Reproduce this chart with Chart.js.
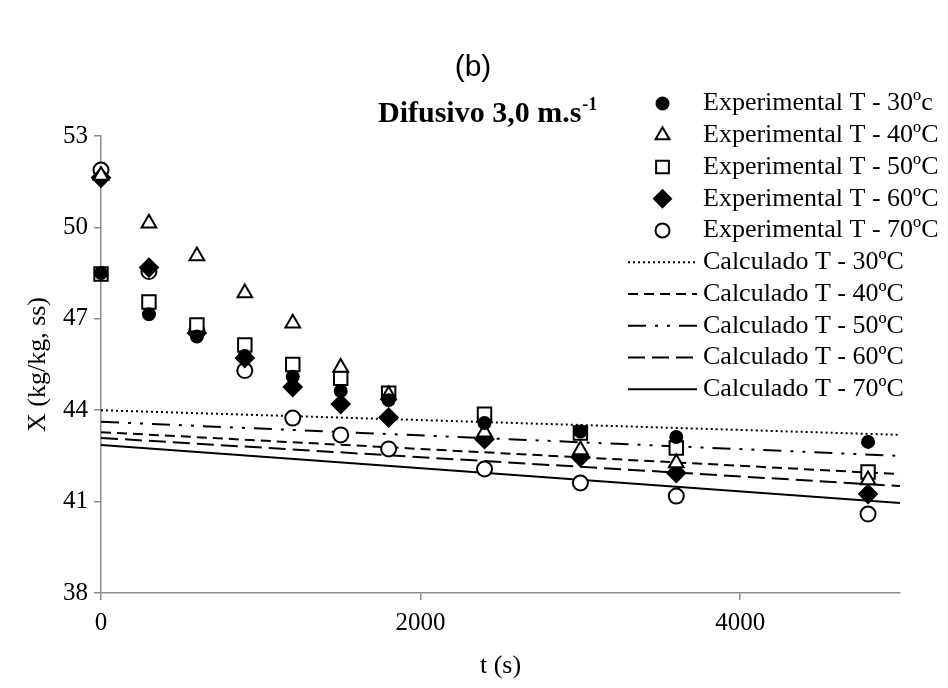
<!DOCTYPE html>
<html><head><meta charset="utf-8">
<script src="https://cdn.jsdelivr.net/npm/chart.js@4.4.1/dist/chart.umd.min.js"></script>
<style>html,body{margin:0;padding:0;background:#fff;}#wrap{width:948px;height:688px;}</style>
</head><body><div id="wrap"><canvas id="c" width="948" height="688"></canvas></div>
<script>
// ---- data ----
const times = [0, 300, 600, 900, 1200, 1500, 1800, 2400, 3000, 3600, 4800];
const exp30 = [48.50, 47.15, 46.42, 45.78, 45.10, 44.63, 44.33, 43.58, 43.30, 43.12, 42.96];
const exp40 = [51.70, 50.14, 49.06, 47.85, 46.85, 45.40, 44.50, 43.28, 42.69, 42.27, 41.71];
const exp50 = [48.47, 47.55, 46.80, 46.14, 45.50, 45.05, 44.56, 43.87, 43.25, 42.76, 41.97];
const exp60 = [51.63, 48.68, 46.53, 45.71, 44.76, 44.20, 43.76, 43.05, 42.46, 41.94, 41.25];
const exp70 = [51.88, 48.55, 46.60, 45.30, 43.74, 43.19, 42.73, 42.07, 41.61, 41.18, 40.59];
const calcTimes = [0, 5000];
const calc30 = [44.00, 43.19];
const calc40 = [43.28, 41.90];
const calc50 = [43.62, 42.50];
const calc60 = [43.09, 41.51];
const calc70 = [42.86, 40.95];
const expNames = ['Experimental T - 30ºc', 'Experimental T - 40ºC', 'Experimental T - 50ºC', 'Experimental T - 60ºC', 'Experimental T - 70ºC'];
const calcNames = ['Calculado T - 30ºC', 'Calculado T - 40ºC', 'Calculado T - 50ºC', 'Calculado T - 60ºC', 'Calculado T - 70ºC'];
const xTicks = [0, 2000, 4000];
const yTicks = [38, 41, 44, 47, 50, 53];

const serif = "'Liberation Serif','Times New Roman',serif";
const axisGray = '#8a8a8a';

const toXY = (xs, ys) => xs.map((x, i) => ({x: x, y: ys[i]}));

const expStyles = [
  {pointStyle: 'circle', radius: 6, legendRadius: 6, bg: '#000'},
  {pointStyle: 'triangle', radius: 8.5, legendRadius: 8, bg: '#fff'},
  {pointStyle: 'rect', radius: 9.5, legendRadius: 9, bg: '#fff'},
  {pointStyle: 'rectRot', radius: 9, legendRadius: 8.5, bg: '#000'},
  {pointStyle: 'circle', radius: 7.5, legendRadius: 7, bg: '#fff'}
];
const calcDashes = [[2, 3], [10, 6], [18, 9, 3, 9, 3, 9], [17, 7], []];

const expData = [exp30, exp40, exp50, exp60, exp70];
const calcData = [calc30, calc40, calc50, calc60, calc70];

const datasets = [];
expData.forEach((ys, i) => {
  const s = expStyles[i];
  datasets.push({
    label: expNames[i], kind: 'exp', legendRadius: s.legendRadius,
    data: toXY(times, ys), showLine: false,
    pointStyle: s.pointStyle, pointRadius: s.radius, pointHoverRadius: s.radius,
    pointBackgroundColor: s.bg, pointBorderColor: '#000', pointBorderWidth: 2,
    clip: false, order: 1
  });
});
calcData.forEach((ys, i) => {
  datasets.push({
    label: calcNames[i], kind: 'calc',
    data: toXY(calcTimes, ys), showLine: true,
    borderColor: '#000', borderWidth: 2, borderDash: calcDashes[i],
    pointRadius: 0, fill: false, order: 2
  });
});

const overlay = {
  id: 'overlay',
  afterDraw(chart) {
    const ctx = chart.ctx, a = chart.chartArea;
    ctx.save();
    ctx.fillStyle = '#000';
    // panel label
    ctx.font = "30px 'Liberation Sans', Arial, sans-serif";
    ctx.textAlign = 'center'; ctx.textBaseline = 'middle';
    ctx.fillText('(b)', 473, 68);
    // subtitle
    ctx.font = "bold 30px " + serif;
    ctx.textAlign = 'left'; ctx.textBaseline = 'alphabetic';
    const s = 'Difusivo 3,0 m.s';
    ctx.fillText(s, 378, 122);
    const w = ctx.measureText(s).width;
    ctx.font = "bold 18px " + serif;
    ctx.fillText('-1', 378 + w + 1, 110);
    // axis titles
    ctx.font = "26px " + serif;
    ctx.textAlign = 'center'; ctx.textBaseline = 'middle';
    ctx.fillText('t (s)', (a.left + a.right) / 2, 666);
    ctx.save();
    ctx.translate(38, (a.top + a.bottom) / 2);
    ctx.rotate(-Math.PI / 2);
    ctx.fillText('X (kg/kg, ss)', 0, 0);
    ctx.restore();
    // legend
    const rowY0 = 103.5, rowStep = 31.75, symL = 628, symR = 697, textX = 703;
    chart.data.datasets.forEach((ds, i) => {
      const y = rowY0 + i * rowStep;
      ctx.save();
      if (ds.kind === 'exp') {
        ctx.fillStyle = ds.pointBackgroundColor;
        ctx.strokeStyle = '#000';
        ctx.lineWidth = ds.pointBorderWidth;
        Chart.helpers.drawPoint(ctx, {pointStyle: ds.pointStyle, radius: ds.legendRadius, borderWidth: ds.pointBorderWidth, rotation: 0}, (symL + symR) / 2, y);
      } else {
        ctx.strokeStyle = '#000';
        ctx.lineWidth = ds.borderWidth;
        ctx.setLineDash(ds.borderDash);
        ctx.beginPath();
        ctx.moveTo(symL, y); ctx.lineTo(symR, y);
        ctx.stroke();
      }
      ctx.restore();
      ctx.font = "26px " + serif;
      ctx.textAlign = 'left'; ctx.textBaseline = 'middle';
      ctx.fillStyle = '#000';
      ctx.fillText(ds.label, textX, y);
    });
    ctx.restore();
  }
};

new Chart(document.getElementById('c'), {
  type: 'scatter',
  data: {datasets: datasets},
  options: {
    responsive: false,
    animation: false,
    devicePixelRatio: 1,
    layout: {padding: {top: 136, right: 48, left: 0, bottom: 0}},
    plugins: {legend: {display: false}, tooltip: {enabled: false}, title: {display: false}},
    scales: {
      x: {
        type: 'linear', min: 0, max: 5000,
        afterBuildTicks: (sc) => { sc.ticks = xTicks.map(v => ({value: v})); },
        afterFit: (sc) => { sc.height = 95; },
        grid: {display: true, drawOnChartArea: false, drawTicks: true, tickLength: 7, color: axisGray, lineWidth: 1.5},
        border: {display: true, color: axisGray, width: 1.5},
        ticks: {color: '#000', font: {family: serif, size: 25}, padding: 8, maxRotation: 0,
                callback: (v) => String(v)}
      },
      y: {
        type: 'linear', min: 38, max: 53,
        afterBuildTicks: (sc) => { sc.ticks = yTicks.map(v => ({value: v})); },
        afterFit: (sc) => { sc.width = 101; },
        grid: {display: true, drawOnChartArea: false, drawTicks: true, tickLength: 7, color: axisGray, lineWidth: 1.5},
        border: {display: true, color: axisGray, width: 1.5},
        ticks: {color: '#000', font: {family: serif, size: 25}, padding: 6, callback: (v) => String(v)}
      }
    }
  },
  plugins: [overlay]
});
</script>
</body></html>
